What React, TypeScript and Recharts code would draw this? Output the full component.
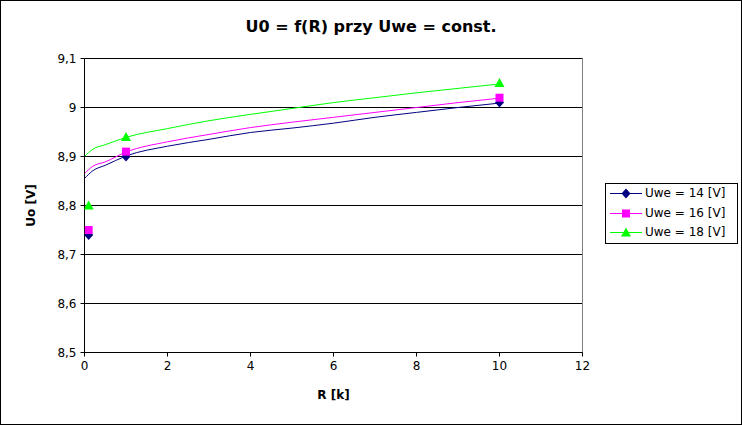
import React from 'react'
import { ComposedChart, Line, Scatter, XAxis, YAxis, CartesianGrid, ReferenceLine, Label } from 'recharts'

const curveX = [0, 0.2, 0.5, 1, 2, 3, 4, 5, 6, 7, 8, 9, 10]
const curve14 = [8.855, 8.871, 8.882, 8.901, 8.921, 8.935, 8.949, 8.958, 8.968, 8.98, 8.99, 9.0, 9.009]
const curve16 = [8.865, 8.88, 8.889, 8.909, 8.93, 8.945, 8.959, 8.97, 8.98, 8.99, 9.0, 9.01, 9.019]
const curve18 = [8.9, 8.915, 8.924, 8.939, 8.957, 8.973, 8.986, 8.998, 9.01, 9.02, 9.03, 9.039, 9.048]

const pointX = [0.1, 1, 10]
const points14 = [8.74, 8.9, 9.01]
const points16 = [8.75, 8.91, 9.02]
const points18 = [8.8, 8.94, 9.05]

const xTicks = [0, 2, 4, 6, 8, 10, 12]
const yTicks = [8.5, 8.6, 8.7, 8.8, 8.9, 9.0, 9.1]

const seriesNames = ['Uwe = 14 [V]', 'Uwe = 16 [V]', 'Uwe = 18 [V]']
const colors = ['#000080', '#ff00ff', '#00ff00']

const toPts = (xs: number[], ys: number[]) => xs.map((x, i) => ({ x, y: ys[i] }))

const curves = [curve14, curve16, curve18].map((c) => toPts(curveX, c))
const markers = [points14, points16, points18].map((p) => toPts(pointX, p))

const font = 'DejaVu Sans, sans-serif'

const fmt = (v: number) => (v === 9 ? '9' : v.toFixed(1).replace('.', ','))

function Marker({ kind, cx, cy, fill }: { kind: number; cx: number; cy: number; fill: string }) {
  if (kind === 0) return <polygon points={`${cx},${cy - 5} ${cx + 4.5},${cy} ${cx},${cy + 5} ${cx - 4.5},${cy}`} fill={fill} />
  if (kind === 1) return <rect x={cx - 4} y={cy - 4} width={8} height={8} fill={fill} />
  return <polygon points={`${cx},${cy - 5} ${cx + 5},${cy + 4} ${cx - 5},${cy + 4}`} fill={fill} />
}

function LegendBox() {
  return (
    <div
      style={{
        position: 'absolute',
        left: 604,
        top: 182,
        width: 131,
        height: 59,
        border: '1px solid #000',
        background: '#fff',
        fontFamily: font,
        fontSize: 12,
      }}
    >
      {seriesNames.map((name, i) => (
        <div key={name} style={{ position: 'absolute', left: 4, top: 1 + i * 19.5, height: 16, display: 'flex', alignItems: 'center' }}>
          <svg width={32} height={16}>
            <line x1={0} y1={8.5} x2={32} y2={8.5} stroke={colors[i]} strokeWidth={1} />
            <Marker kind={i} cx={16} cy={8.5} fill={colors[i]} />
          </svg>
          <span style={{ marginLeft: 3, whiteSpace: 'pre' }}>{name}</span>
        </div>
      ))}
    </div>
  )
}

export default function App() {
  return (
    <div
      style={{
        position: 'absolute',
        left: 0,
        top: 0,
        width: 742,
        height: 425,
        boxSizing: 'border-box',
        border: '1px solid #000',
        background: '#fff',
      }}
    >
      <div
        style={{
          position: 'absolute',
          left: 0,
          top: 16,
          width: 740,
          textAlign: 'center',
          fontFamily: font,
          fontSize: 16,
          fontWeight: 'bold',
        }}
      >
        U0 = f(R) przy Uwe = const.
      </div>
      <ComposedChart width={740} height={423} margin={{ top: 57.5, right: 158.5, bottom: 0, left: 0 }}>
        <CartesianGrid horizontal vertical={false} stroke="#000" strokeOpacity={1} />
        <XAxis
          type="number"
          dataKey="x"
          domain={[0, 12]}
          ticks={xTicks}
          allowDataOverflow
          height={71.5}
          tickSize={4}
          tickMargin={5}
          stroke="#000"
          tick={{ fill: '#000', fontSize: 12, fontFamily: font }}
        >
          <Label value="R [k]" position="insideTop" offset={38} style={{ fontFamily: font, fontSize: 12, fontWeight: 'bold', fill: '#000' }} />
        </XAxis>
        <YAxis
          type="number"
          domain={[8.5, 9.1]}
          ticks={yTicks}
          allowDataOverflow
          width={83.5}
          tickSize={4}
          tickMargin={4}
          stroke="#000"
          tickFormatter={fmt}
          tick={{ fill: '#000', fontSize: 12, fontFamily: font }}
        >
          <Label
            value="Uo [V]"
            angle={-90}
            position="insideLeft"
            offset={30}
            style={{ fontFamily: font, fontSize: 12, fontWeight: 'bold', fill: '#000', textAnchor: 'middle' }}
          />
        </YAxis>
        <ReferenceLine x={12} stroke="#808080" />
        {curves.map((d, i) => (
          <Line
            key={'c' + i}
            data={d}
            dataKey="y"
            type="monotone"
            stroke={colors[i]}
            strokeWidth={1}
            dot={false}
            activeDot={false}
            isAnimationActive={false}
          />
        ))}
        {markers.map((d, i) => (
          <Scatter
            key={'m' + i}
            data={d}
            dataKey="y"
            fill={colors[i]}
            shape={(p: any) => <Marker kind={i} cx={p.cx} cy={p.cy} fill={colors[i]} />}
            isAnimationActive={false}
          />
        ))}
      </ComposedChart>
      <LegendBox />
    </div>
  )
}
